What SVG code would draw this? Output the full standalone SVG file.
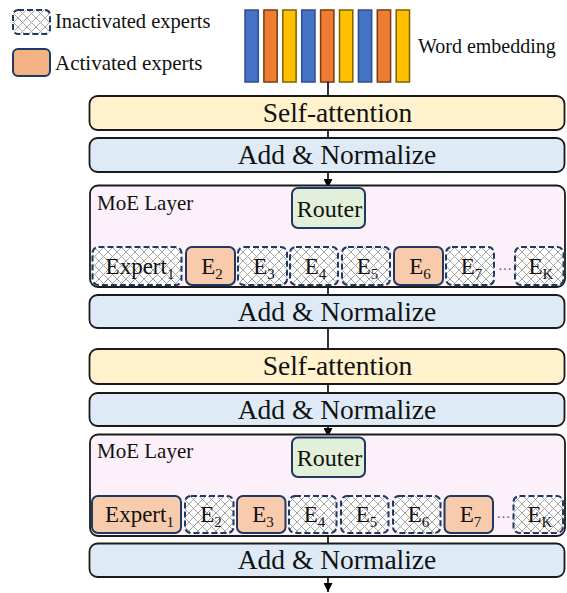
<svg xmlns="http://www.w3.org/2000/svg" width="567" height="593" viewBox="0 0 567 593">
  <defs>
    <!-- cross-hatch fill for inactive experts -->
    <pattern id="hatch" width="9" height="9" patternUnits="userSpaceOnUse">
      <rect width="9" height="9" fill="#ffffff"/>
      <path d="M0,0 L9,9 M9,0 L0,9" stroke="#9a9a9a" stroke-width="0.9" fill="none"/>
    </pattern>
    <marker id="arrow" viewBox="0 0 10 10" refX="10" refY="5" markerWidth="9" markerHeight="9" markerUnits="userSpaceOnUse" orient="auto">
      <path d="M0,0 L10,5 L0,10 Z" fill="#000"/>
    </marker>
  </defs>
  <style>
    text { font-family: 'Liberation Serif', 'DejaVu Serif', serif; fill: #111; }
    .blk { stroke: #1a1a1a; stroke-width: 1.8; }
    .sa { fill: #FFF2CC; }
    .an { fill: #DEEBF7; }
    .moe { fill: #FCF1FA; }
    .router { fill: #E2F0D9; stroke: #1F3864; stroke-width: 2; }
    .on { fill: #F8CBAD; stroke: #1F3864; stroke-width: 2; }
    .off { fill: url(#hatch); stroke: #1F3864; stroke-width: 2; stroke-dasharray: 6 3; }
    .big { font-size: 27.5px; text-anchor: middle; }
    .mid { font-size: 24px; text-anchor: middle; }
    .ex { font-size: 23px; text-anchor: middle; }
    .sub { font-size: 15px; }
    .lbl { font-size: 21px; }
    .leg { font-size: 20.5px; }
    .wire { stroke: #000; stroke-width: 1.6; fill: none; }
    .bb { fill: #4472C4; stroke: #2F4F8F; stroke-width: 1.5; }
    .bo { fill: #ED7D31; stroke: #7A3A12; stroke-width: 1.5; }
    .by { fill: #FFC000; stroke: #7F6000; stroke-width: 1.5; }
  </style>

  <g font-family="Liberation Serif, DejaVu Serif, serif">
  <!-- legend -->
  <g id="legend">
    <rect class="off" x="13" y="10" width="37" height="24" rx="5"/>
    <text class="leg" x="55" y="28">Inactivated experts</text>
    <rect x="13" y="49" width="37" height="27" rx="5" fill="#F4B183" stroke="#1F3864" stroke-width="2"/>
    <text class="leg" x="55" y="70" style="font-size:21px">Activated experts</text>
  </g>

  <!-- word embedding tokens -->
  <g id="word-embedding">
    <rect class="bb" x="245" y="10" width="13.3" height="72"/>
    <rect class="bo" x="263.9" y="10" width="13.3" height="72"/>
    <rect class="by" x="282.8" y="10" width="13.3" height="72"/>
    <rect class="bb" x="301.7" y="10" width="13.3" height="72"/>
    <rect class="bo" x="320.6" y="10" width="13.3" height="72"/>
    <rect class="by" x="339.5" y="10" width="13.3" height="72"/>
    <rect class="bb" x="358.4" y="10" width="13.3" height="72"/>
    <rect class="bo" x="377.3" y="10" width="13.3" height="72"/>
    <rect class="by" x="396.2" y="10" width="13.3" height="72"/>
    <text x="418" y="53" style="font-size:20px">Word embedding</text>
  </g>

  <!-- connectors -->
  <g id="connectors">
    <line class="wire" x1="328" y1="82" x2="328" y2="96"/>
    <line class="wire" x1="328" y1="130" x2="328" y2="138"/>
    <line class="wire" x1="328" y1="172" x2="328" y2="188" marker-end="url(#arrow)"/>
    <path class="wire" d="M328,228 V233"/>
    <path class="wire" d="M210.5,233 H417.5"/>
    <line class="wire" x1="210.5" y1="233" x2="210.5" y2="247" marker-end="url(#arrow)"/>
    <line class="wire" x1="417.5" y1="233" x2="417.5" y2="247" marker-end="url(#arrow)"/>
    <line class="wire" x1="328" y1="287" x2="328" y2="295"/>
    <line class="wire" x1="328" y1="328" x2="328" y2="349"/>
    <line class="wire" x1="328" y1="384" x2="328" y2="393"/>
    <line class="wire" x1="328" y1="426" x2="328" y2="437" marker-end="url(#arrow)"/>
    <path class="wire" d="M328,477 V480"/>
    <path class="wire" d="M136.5,480 H469"/>
    <line class="wire" x1="136.5" y1="480" x2="136.5" y2="496" marker-end="url(#arrow)"/>
    <line class="wire" x1="261" y1="480" x2="261" y2="496" marker-end="url(#arrow)"/>
    <line class="wire" x1="469" y1="480" x2="469" y2="496" marker-end="url(#arrow)"/>
    <line class="wire" x1="328" y1="536" x2="328" y2="543"/>
    <line class="wire" x1="328" y1="577" x2="328" y2="592" marker-end="url(#arrow)"/>
  </g>

  <!-- block 1 -->
  <g id="self-attention-1">
    <rect class="sa blk" x="89.5" y="96" width="475" height="34" rx="8"/>
    <text class="big" x="337.5" y="122">Self-attention</text>
  </g>
  <g id="add-norm-1">
    <rect class="an blk" x="89.5" y="138" width="475" height="34" rx="8"/>
    <text class="big" x="337" y="164">Add &amp; Normalize</text>
  </g>
  <g id="moe-layer-1">
    <rect class="moe blk" x="90" y="185.5" width="475" height="101.5" rx="8"/>
    <text class="lbl" x="97" y="210">MoE Layer</text>
  </g>
  <g id="router-1">
    <rect class="router" x="292" y="188" width="73" height="40" rx="6"/>
    <text class="mid" x="329.5" y="217">Router</text>
  </g>
  <g id="experts-1">
    <g id="l1-expert1"><rect class="off" x="92.5" y="247" width="89" height="38" rx="6"/><text class="ex" x="140" y="274">Expert<tspan class="sub" dy="5">1</tspan></text></g>
    <g id="l1-e2"><rect class="on" x="186" y="247" width="49" height="38" rx="6"/><text class="ex" x="212" y="274">E<tspan class="sub" dy="5">2</tspan></text></g>
    <g id="l1-e3"><rect class="off" x="238" y="247" width="49" height="38" rx="6"/><text class="ex" x="264" y="274">E<tspan class="sub" dy="5">3</tspan></text></g>
    <g id="l1-e4"><rect class="off" x="290" y="247" width="48" height="38" rx="6"/><text class="ex" x="315.5" y="274">E<tspan class="sub" dy="5">4</tspan></text></g>
    <g id="l1-e5"><rect class="off" x="342" y="247" width="48" height="38" rx="6"/><text class="ex" x="367.5" y="274">E<tspan class="sub" dy="5">5</tspan></text></g>
    <g id="l1-e6"><rect class="on" x="394" y="247" width="49" height="38" rx="6"/><text class="ex" x="420" y="274">E<tspan class="sub" dy="5">6</tspan></text></g>
    <g id="l1-e7"><rect class="off" x="446" y="247" width="48" height="38" rx="6"/><text class="ex" x="471.5" y="274">E<tspan class="sub" dy="5">7</tspan></text></g>
    <text x="505" y="270" style="font-size:14px;text-anchor:middle;fill:#555">…</text>
    <g id="l1-ek"><rect class="off" x="515" y="247" width="48.5" height="38" rx="6"/><text class="ex" x="541" y="274">E<tspan class="sub" dy="5">K</tspan></text></g>
  </g>
  <g id="add-norm-2">
    <rect class="an blk" x="89.5" y="295" width="475" height="33" rx="8"/>
    <text class="big" x="337" y="320.5">Add &amp; Normalize</text>
  </g>

  <!-- block 2 -->
  <g id="self-attention-2">
    <rect class="sa blk" x="89.5" y="349" width="475" height="35" rx="8"/>
    <text class="big" x="337.5" y="375">Self-attention</text>
  </g>
  <g id="add-norm-3">
    <rect class="an blk" x="89.5" y="393" width="475" height="33" rx="8"/>
    <text class="big" x="337" y="418.5">Add &amp; Normalize</text>
  </g>
  <g id="moe-layer-2">
    <rect class="moe blk" x="90" y="434.5" width="475" height="101.5" rx="8"/>
    <text class="lbl" x="97" y="458">MoE Layer</text>
  </g>
  <g id="router-2">
    <rect class="router" x="292" y="437.5" width="73" height="39.5" rx="6"/>
    <text class="mid" x="329.5" y="466">Router</text>
  </g>
  <g id="experts-2">
    <g id="l2-expert1"><rect class="on" x="92" y="496" width="89" height="37" rx="6"/><text class="ex" x="139.5" y="522">Expert<tspan class="sub" dy="5">1</tspan></text></g>
    <g id="l2-e2"><rect class="off" x="185" y="496" width="48.5" height="37" rx="6"/><text class="ex" x="211" y="522">E<tspan class="sub" dy="5">2</tspan></text></g>
    <g id="l2-e3"><rect class="on" x="237" y="496" width="48.5" height="37" rx="6"/><text class="ex" x="263" y="522">E<tspan class="sub" dy="5">3</tspan></text></g>
    <g id="l2-e4"><rect class="off" x="289" y="496" width="47.5" height="37" rx="6"/><text class="ex" x="314.5" y="522">E<tspan class="sub" dy="5">4</tspan></text></g>
    <g id="l2-e5"><rect class="off" x="341" y="496" width="47.5" height="37" rx="6"/><text class="ex" x="366.5" y="522">E<tspan class="sub" dy="5">5</tspan></text></g>
    <g id="l2-e6"><rect class="off" x="393" y="496" width="47.5" height="37" rx="6"/><text class="ex" x="418.5" y="522">E<tspan class="sub" dy="5">6</tspan></text></g>
    <g id="l2-e7"><rect class="on" x="444.5" y="496" width="48.5" height="37" rx="6"/><text class="ex" x="470.5" y="522">E<tspan class="sub" dy="5">7</tspan></text></g>
    <text x="503.5" y="518" style="font-size:14px;text-anchor:middle;fill:#555">…</text>
    <g id="l2-ek"><rect class="off" x="513.5" y="496" width="49.5" height="37" rx="6"/><text class="ex" x="540" y="522">E<tspan class="sub" dy="5">K</tspan></text></g>
  </g>
  <g id="add-norm-4">
    <rect class="an blk" x="89.5" y="543.5" width="475" height="33.5" rx="8"/>
    <text class="big" x="337" y="569">Add &amp; Normalize</text>
  </g>
  </g>
</svg>
